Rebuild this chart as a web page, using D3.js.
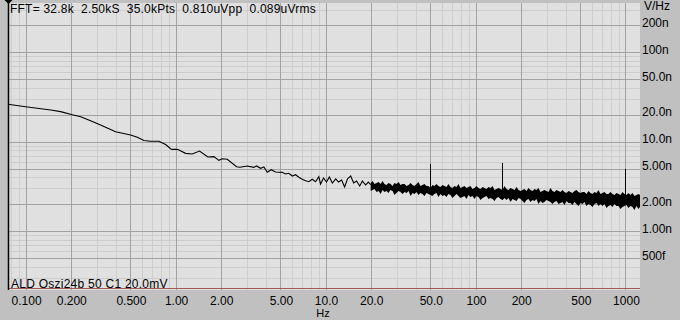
<!DOCTYPE html>
<html>
<head>
<meta charset="utf-8">
<script src="https://cdn.jsdelivr.net/npm/d3@7/dist/d3.min.js"></script>
<style>
  html, body { margin: 0; padding: 0; background: #c0c0c0; }
  svg text { font-family: "Liberation Sans", Arial, sans-serif; font-size: 12px; fill: #000; white-space: pre; }
</style>
</head>
<body>
<svg id="chart" width="680" height="320"></svg>
<script>
// header / footer texts
var headerText = "FFT= 32.8k  2.50kS  35.0kPts  0.810uVpp  0.089uVrms";
var footerText = "ALD Oszi24b 50 C1 20.0mV";
var unitY = "V/Hz";
var unitX = "Hz";

// axis ticks
var xTicks = [0.1, 0.2, 0.5, 1, 2, 5, 10, 20, 50, 100, 200, 500, 1000];
var xTickLabels = ["0.100", "0.200", "0.500", "1.00", "2.00", "5.00", "10.0", "20.0", "50.0", "100", "200", "500", "1000"];
var yTicks = [200, 100, 50, 20, 10, 5, 2, 1, 0.5];   // nV
var yTickLabels = ["200n", "100n", "50.0n", "20.0n", "10.0n", "5.00n", "2.00n", "1.00n", "500f"];

// low frequency part of the spectrum (Hz, nV/rtHz)
var traceHz = [0.0763, 0.100, 0.147, 0.171, 0.205, 0.233, 0.271, 0.316, 0.398, 0.501, 0.556, 0.615,
  0.681, 0.774, 0.858, 0.926, 0.951, 1.026, 1.052, 1.166, 1.292, 1.445, 1.642, 1.800, 1.944, 2.048,
  2.211, 2.551, 2.684, 3.006, 3.327, 3.467, 3.687, 3.879, 4.087, 4.345, 4.642, 4.884,
  5.14, 5.41, 5.69, 6.00, 6.31, 6.64, 6.99, 7.36, 7.74, 8.15, 8.58, 9.02, 9.26, 9.70, 10.15,
  10.6, 11.1, 11.7, 12.2, 12.8, 13.4, 14.0, 14.7, 15.4, 16.1, 16.9, 17.6, 18.5, 19.3, 20.0];
var traceNv = [26.2, 24.6, 22.6, 21.7, 20.0, 19.0, 17.2, 15.4, 12.9, 11.9, 11.2, 10.3,
  10.1, 10.1, 9.3, 8.35, 8.2, 8.2, 8.08, 7.41, 7.29, 7.87, 6.74, 6.80, 6.19, 6.45,
  6.36, 5.25, 5.17, 5.35, 5.17, 5.35, 5.04, 5.21, 4.55, 4.86, 4.58, 4.55,
  4.54, 4.35, 4.43, 4.13, 4.27, 4.00, 3.80, 3.66, 3.57, 3.80, 3.57, 4.06, 3.36, 3.93, 3.54,
  4.03, 3.45, 3.83, 3.54, 3.73, 3.11, 3.83, 4.13, 3.45, 3.63, 3.20, 3.63, 3.28, 3.54, 3.30];

// dense part: min/max per display column (Hz, nV/rtHz)
var bandHz = [20.0, 20.6, 21.2, 21.9, 22.6, 23.3, 24.0, 24.7, 25.5, 26.3,
  27.1, 28.0, 28.8, 29.7, 30.7, 31.6, 32.6, 33.6, 34.7, 35.8,
  36.9, 38.0, 39.2, 40.4, 41.7, 42.9, 44.3, 45.7, 47.1, 48.5,
  50.1, 51.6, 53.2, 54.9, 56.6, 58.4, 60.2, 62.1, 64.0, 66.0,
  68.1, 70.2, 72.4, 74.7, 77.0, 79.4, 81.9, 84.4, 87.1, 89.8,
  92.6, 95.5, 98.5, 101.5, 104.7, 108.0, 111.4, 114.8, 118.4, 122.1,
  125.9, 129.9, 133.9, 138.1, 142.4, 146.8, 151.4, 156.1, 161.0, 166.0,
  171.2, 176.6, 182.1, 187.8, 193.6, 199.5, 205.8, 212.2, 218.8, 225.6,
  232.6, 239.9, 247.4, 255.1, 263.0, 271.2, 279.7, 288.4, 297.4, 306.6,
  316.2, 326.1, 336.3, 346.7, 357.5, 368.7, 380.2, 392.0, 404.2, 416.9,
  429.9, 443.3, 457.1, 471.3, 486.0, 501.2, 516.8, 532.9, 549.5, 566.6,
  584.3, 602.6, 621.3, 640.7, 660.7, 681.3, 702.5, 724.4, 747.0, 770.3,
  794.3, 819.1, 844.6, 870.9, 898.1, 926.1, 954.9, 984.7, 1015, 1047,
  1080, 1114, 1148, 1184, 1221, 1250];
var bandHi = [3.45, 3.63, 3.36, 3.45, 3.54, 3.36, 3.63, 3.36, 3.28, 3.45,
  3.36, 3.20, 3.45, 3.36, 3.54, 3.28, 3.36, 3.36, 3.20, 3.28,
  3.45, 3.28, 3.20, 3.36, 3.54, 3.20, 3.28, 3.36, 3.20, 3.20,
  3.03, 3.28, 3.20, 3.36, 3.20, 3.11, 3.28, 3.20, 3.11, 3.36,
  3.11, 3.03, 3.20, 3.11, 3.36, 3.03, 3.11, 3.20, 3.03, 3.11,
  3.20, 2.96, 3.03, 3.20, 3.03, 2.96, 3.11, 3.03, 2.96, 3.11,
  3.03, 3.20, 2.88, 2.96, 3.03, 2.96, 2.88, 3.20, 2.96, 2.88,
  3.03, 2.96, 2.88, 3.11, 2.88, 2.81, 2.88, 2.96, 2.81, 3.03,
  2.88, 2.81, 2.96, 2.88, 3.03, 2.74, 2.81, 2.88, 2.81, 2.74,
  3.03, 2.81, 2.74, 2.88, 2.81, 2.74, 2.88, 2.74, 2.67, 2.81,
  2.74, 2.67, 2.81, 2.88, 2.74, 2.67, 2.74, 2.74, 2.60, 2.81,
  2.67, 2.60, 2.74, 2.67, 2.88, 2.60, 2.67, 2.74, 2.60, 2.60,
  2.74, 2.60, 2.53, 2.67, 2.60, 2.53, 2.74, 2.60, 2.53, 2.67,
  2.53, 2.67, 2.47, 2.53, 2.60, 2.53];
var bandLo = [2.81, 2.88, 2.96, 2.74, 2.81, 2.60, 2.88, 2.74, 2.81, 2.67,
  2.88, 2.81, 2.53, 2.67, 2.81, 2.74, 2.60, 2.74, 2.67, 2.81,
  2.47, 2.67, 2.60, 2.74, 2.53, 2.67, 2.60, 2.47, 2.67, 2.60,
  2.53, 2.47, 2.60, 2.67, 2.41, 2.60, 2.47, 2.53, 2.41, 2.60,
  2.53, 2.35, 2.47, 2.60, 2.47, 2.35, 2.41, 2.47, 2.29, 2.53,
  2.41, 2.47, 2.29, 2.47, 2.41, 2.23, 2.35, 2.41, 2.47, 2.29,
  2.35, 2.29, 2.17, 2.35, 2.41, 2.29, 2.23, 2.35, 2.23, 2.35,
  2.12, 2.29, 2.23, 2.17, 2.35, 2.29, 2.17, 2.06, 2.23, 2.29,
  2.12, 2.23, 2.17, 2.29, 2.01, 2.17, 2.06, 2.12, 2.23, 2.17,
  2.12, 2.01, 2.12, 2.17, 2.01, 2.06, 2.12, 1.96, 2.17, 2.06,
  2.06, 1.96, 2.12, 2.01, 1.91, 2.06, 2.01, 2.12, 1.91, 2.01,
  1.96, 1.86, 2.01, 2.06, 1.91, 2.01, 1.91, 2.01, 1.81, 1.91,
  1.96, 1.86, 2.01, 1.91, 1.91, 1.77, 1.86, 1.91, 1.96, 1.81,
  1.91, 1.86, 1.72, 1.91, 1.77, 1.86];

// mains / interference lines
var spikeHz = [50, 150, 1000];
var spikeNv = [5.63, 5.78, 4.95];

var svg = d3.select("#chart");
var W = 680, H = 320;
var plot = { left: 8, right: 640, top: 3, bottom: 290 };

var x = d3.scaleLog().domain([2500 / 32768, 1250]).range([plot.left, plot.right]);
var y = d3.scaleLog().domain([1, 100]).range([231.1, 52.3]);

svg.append("rect").attr("width", W).attr("height", H).attr("fill", "#c0c0c0");
svg.append("rect")
  .attr("x", plot.left).attr("y", plot.top)
  .attr("width", plot.right - plot.left).attr("height", plot.bottom - plot.top)
  .attr("fill", "#e0e0e0");

// grid lines: 1,2,5 are major, the rest minor
var minorMult = [3, 4, 6, 7, 8, 9];
var xMinor = [], yMinor = [];
[0.01, 0.1, 1, 10, 100, 1000].forEach(function (d) {
  minorMult.forEach(function (m) { xMinor.push(d * m); });
});
[0.1, 1, 10, 100].forEach(function (d) {
  minorMult.forEach(function (m) { yMinor.push(d * m); });
});
xMinor = xMinor.filter(function (v) { return x(v) > plot.left && x(v) < plot.right; });
yMinor = yMinor.filter(function (v) { return y(v) > plot.top && y(v) < plot.bottom; });

var grid = svg.append("g").attr("shape-rendering", "crispEdges");
grid.selectAll(".xmin").data(xMinor).enter().append("line")
  .attr("x1", function (d) { return Math.round(x(d)) + 0.5; })
  .attr("x2", function (d) { return Math.round(x(d)) + 0.5; })
  .attr("y1", plot.top).attr("y2", plot.bottom)
  .attr("stroke", "#cdcdcd");
grid.selectAll(".ymin").data(yMinor).enter().append("line")
  .attr("y1", function (d) { return Math.round(y(d)) + 0.5; })
  .attr("y2", function (d) { return Math.round(y(d)) + 0.5; })
  .attr("x1", plot.left).attr("x2", plot.right)
  .attr("stroke", "#cdcdcd");
grid.selectAll(".xmaj").data(xTicks).enter().append("line")
  .attr("x1", function (d) { return Math.round(x(d)) + 0.5; })
  .attr("x2", function (d) { return Math.round(x(d)) + 0.5; })
  .attr("y1", plot.top).attr("y2", plot.bottom)
  .attr("stroke", "#a2a2a2");
grid.selectAll(".ymaj").data(yTicks).enter().append("line")
  .attr("y1", function (d) { return Math.round(y(d)) + 0.5; })
  .attr("y2", function (d) { return Math.round(y(d)) + 0.5; })
  .attr("x1", plot.left).attr("x2", plot.right)
  .attr("stroke", "#a2a2a2");

// reference line at the bottom
svg.append("line")
  .attr("x1", plot.left).attr("x2", plot.right)
  .attr("y1", plot.bottom - 1.5).attr("y2", plot.bottom - 1.5)
  .attr("stroke", "#a05858");

// left cursor line with marker
svg.append("line")
  .attr("x1", plot.left + 0.5).attr("x2", plot.left + 0.5)
  .attr("y1", 0).attr("y2", plot.bottom)
  .attr("stroke", "#000").attr("stroke-width", 1.5);
svg.append("path")
  .attr("d", "M" + (plot.left - 3.5) + ",0 L" + (plot.left + 4.5) + ",0 L" + (plot.left + 0.5) + ",4 Z")
  .attr("fill", "#000");

// trace
svg.append("clipPath").attr("id", "clip").append("rect")
  .attr("x", plot.left).attr("y", plot.top)
  .attr("width", plot.right - plot.left).attr("height", plot.bottom - plot.top);
var g = svg.append("g").attr("clip-path", "url(#clip)");

var traceData = traceHz.map(function (f, i) { return [f, traceNv[i]]; });
g.append("path")
  .datum(traceData)
  .attr("fill", "none").attr("stroke", "#000").attr("stroke-width", 1.1)
  .attr("d", d3.line().x(function (d) { return x(d[0]); }).y(function (d) { return y(d[1]); }));

var bandData = bandHz.map(function (f, i) { return [f, bandHi[i], bandLo[i]]; });
g.append("path")
  .datum(bandData)
  .attr("fill", "#000").attr("stroke", "none")
  .attr("d", d3.area()
    .x(function (d) { return x(d[0]); })
    .y0(function (d) { return y(d[2]); })
    .y1(function (d) { return y(d[1]); }));

var bis = d3.bisector(function (d) { return d; }).left;
g.selectAll(".spike").data(spikeHz).enter().append("line")
  .attr("x1", function (d) { return Math.round(x(d)) + 0.5; })
  .attr("x2", function (d) { return Math.round(x(d)) + 0.5; })
  .attr("y1", function (d, i) { return y(spikeNv[i]); })
  .attr("y2", function (d) { return y(bandLo[Math.min(bis(bandHz, d), bandHz.length - 1)]); })
  .attr("stroke", "#000");

// texts
svg.append("text").attr("x", 10).attr("y", 13).attr("letter-spacing", 0.22).text(headerText);
svg.append("text").attr("x", 11).attr("y", 288).attr("letter-spacing", 0.25).text(footerText);
svg.append("text").attr("x", 644).attr("y", 10).text(unitY);

svg.selectAll(".ylab").data(yTicks).enter().append("text")
  .attr("x", 642)
  .attr("y", function (d) { return y(d) + 1.5; })
  .text(function (d, i) { return yTickLabels[i]; });

svg.selectAll(".xlab").data(xTicks).enter().append("text")
  .attr("x", function (d) { return x(d) + 1; })
  .attr("y", 304.5)
  .attr("text-anchor", "middle")
  .text(function (d, i) { return xTickLabels[i]; });
svg.append("text").attr("x", 323).attr("y", 317).attr("text-anchor", "middle")
  .style("font-size", "11px").text(unitX);
</script>
</body>
</html>
